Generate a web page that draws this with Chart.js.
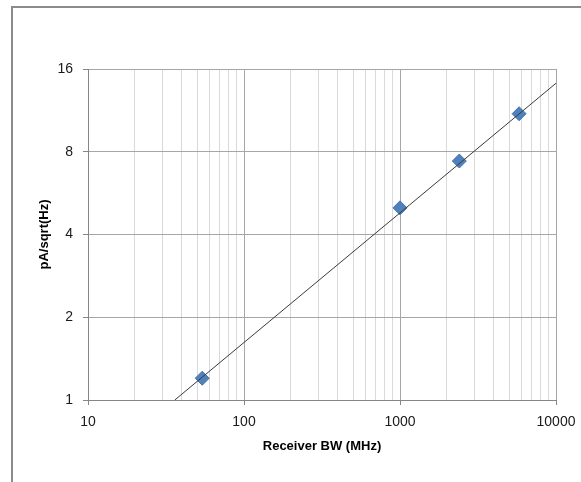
<!DOCTYPE html>
<html>
<head>
<meta charset="utf-8">
<script src="https://cdn.jsdelivr.net/npm/chart.js@4/dist/chart.umd.min.js"></script>
<style>
  html, body { margin: 0; padding: 0; background: #fff; }
  #wrap { position: relative; width: 581px; height: 482px; overflow: hidden; }
  #frame {
    position: absolute; left: 11px; top: 6px; width: 600px; height: 500px;
    border-left: 2px solid #8c8c8c; border-top: 2px solid #8c8c8c;
  }
  #chart { position: absolute; left: 0; top: 0; }
</style>
</head>
<body>
<div id="wrap">
  <div id="frame"></div>
  <canvas id="chart" width="581" height="482"></canvas>
</div>
<script>
// ── data ──
const bwMHz     = [54, 1000, 2400, 5800];
const noisePA   = [1.2, 5.0, 7.4, 11.0];

// power trendline, endpoints as drawn
const trendX = [36, 10000];
const trendY = [1, 14.2];

// axis ticks
const xMajor = [10, 100, 1000, 10000];
const yTicks = [1, 2, 4, 8, 16];

// minor x grid: 2..9 inside each decade
const xGrid = [];
xMajor.forEach((d, i) => {
  xGrid.push(d);
  if (i < xMajor.length - 1) for (let k = 2; k <= 9; k++) xGrid.push(d * k);
});

const C = {
  major: '#a6a6a6',
  minor: '#d9d9d9',
  axis:  '#868686',
  text:  '#1a1a1a',
  font:  '"Liberation Sans", Arial, sans-serif',
};

new Chart(document.getElementById('chart').getContext('2d'), {
  data: {
    datasets: [
      {
        type: 'line',
        data: trendX.map((x, i) => ({ x, y: trendY[i] })),
        borderColor: '#3a3a3a',
        borderWidth: 1,
        pointRadius: 0,
        fill: false,
        order: 0,
      },
      {
        type: 'scatter',
        data: bwMHz.map((x, i) => ({ x, y: noisePA[i] })),
        pointStyle: 'rectRot',
        pointRadius: 7,
        backgroundColor: '#4f81bd',
        borderColor: '#4373ad',
        borderWidth: 1,
        order: 1,
      },
    ],
  },
  options: {
    responsive: false,
    animation: false,
    layout: { padding: { left: 0, top: 69, right: 25, bottom: 0 } },
    plugins: { legend: { display: false }, tooltip: { enabled: false } },
    scales: {
      x: {
        type: 'logarithmic',
        position: 'bottom',
        min: 10,
        max: 10000,
        afterBuildTicks: s => { s.ticks = xGrid.map(v => ({ value: v })); },
        afterFit: s => { s.height = 82; s.paddingLeft = 0; s.paddingRight = 0; },
        grid: {
          color: c => xMajor.includes(c.tick && c.tick.value) ? C.major : C.minor,
          tickColor: c => xMajor.includes(c.tick && c.tick.value) ? C.axis : 'rgba(0,0,0,0)',
          tickLength: 5,
        },
        border: { color: C.axis },
        ticks: {
          autoSkip: false,
          maxRotation: 0,
          padding: 9,
          color: C.text,
          font: { family: C.font, size: 14 },
          callback: v => xMajor.includes(v) ? String(v) : '',
        },
        title: {
          display: true,
          text: 'Receiver BW (MHz)',
          color: '#000',
          font: { family: C.font, size: 13, weight: 'bold' },
          padding: { top: 0, bottom: 28 },
        },
      },
      y: {
        type: 'logarithmic',
        position: 'left',
        min: 1,
        max: 16,
        afterBuildTicks: s => { s.ticks = yTicks.map(v => ({ value: v })); },
        afterFit: s => { s.width = 88; },
        grid: { color: C.major, tickColor: C.axis, tickLength: 5 },
        border: { color: C.axis },
        ticks: {
          autoSkip: false,
          padding: 10,
          color: C.text,
          font: { family: C.font, size: 14 },
          callback: v => String(v),
        },
        title: {
          display: true,
          text: 'pA/sqrt(Hz)',
          color: '#000',
          font: { family: C.font, size: 13, weight: 'bold' },
          padding: { top: 37, bottom: 0 },
        },
      },
    },
  },
});
</script>
</body>
</html>
